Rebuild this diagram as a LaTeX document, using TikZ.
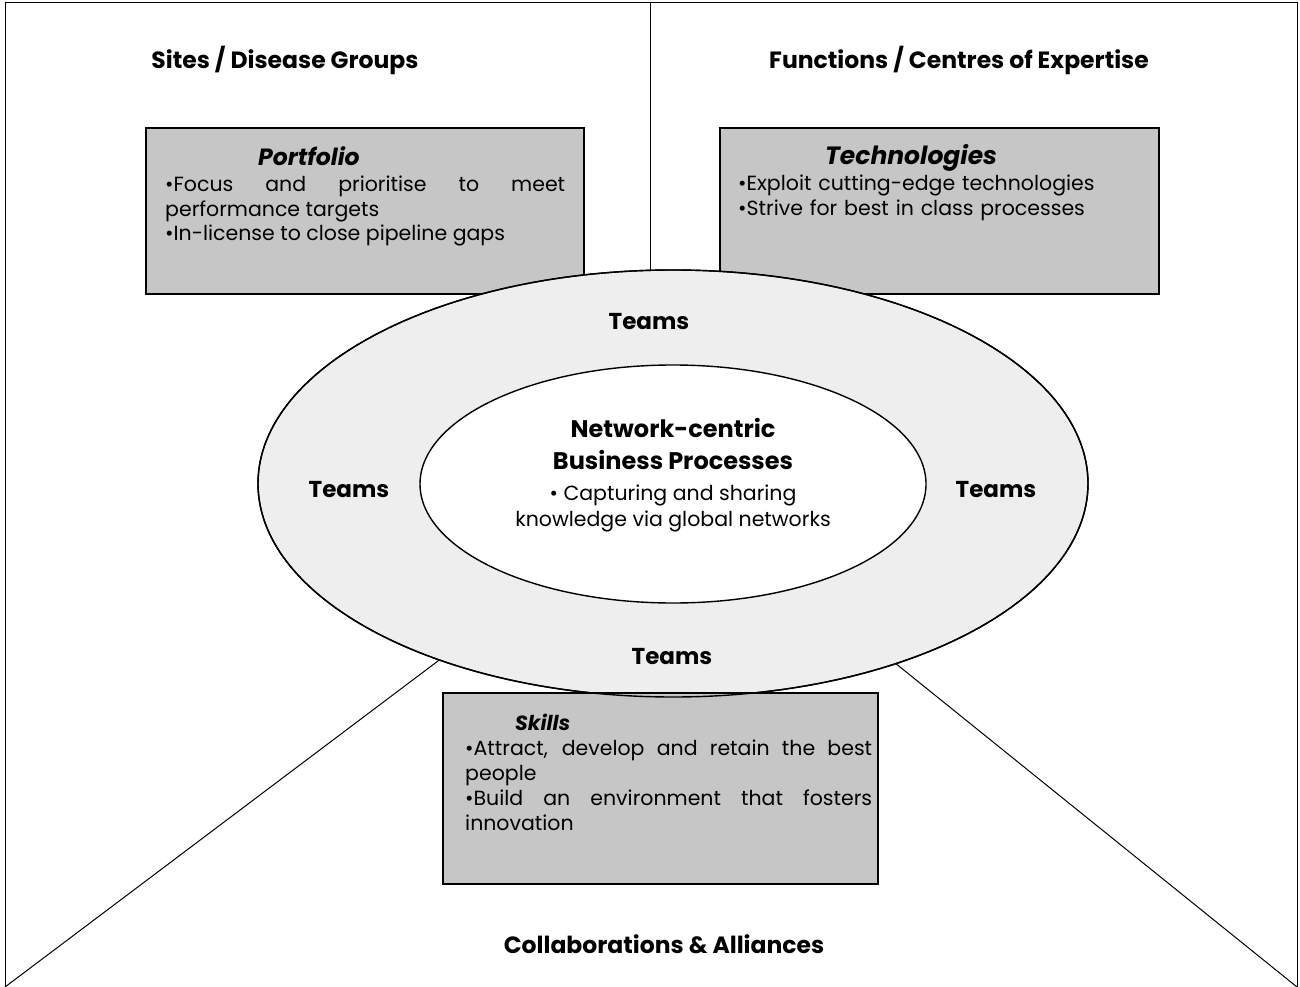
\documentclass[tikz,border=0pt]{standalone}
\usepackage{fontspec}
\setmainfont{Poppins}
\usetikzlibrary{shapes.geometric}
\tikzset{
  frame/.style={draw=black, line width=1pt},
  box/.style={draw=black, line width=1.6pt, fill=gray!45, inner sep=0pt, anchor=north west},
  ring/.style={draw=black, line width=1.4pt, ellipse, inner sep=0pt},
  head/.style={font=\fontsize{23.5}{28}\selectfont\bfseries},
  teams/.style={font=\fontsize{23}{27}\selectfont\bfseries},
  btitle/.style={font=\fontsize{#1}{28}\selectfont\bfseries\itshape, anchor=base west, inner sep=0pt},
  body/.style={font=\fontsize{20.5}{25}\selectfont, anchor=base west, inner sep=0pt},
}
\begin{document}
\begin{tikzpicture}[x=1pt,y=-1pt]
\useasboundingbox (0,0) rectangle (1300,987);
% frame
\coordinate (fbl) at (5,987);
\coordinate (ftl) at (5,3);
\coordinate (ftr) at (1297,3);
\coordinate (fbr) at (1297,987);
\draw[frame] (fbl) -- (ftl) -- (ftr) -- (fbr);
% divider and diagonals toward the centre
\coordinate (ctr) at (673,484);
\coordinate (dtop) at (650,3);
\coordinate (dbot) at (650,330);
\draw[frame] (dtop) -- (dbot);
\draw[frame] (fbl) -- (ctr);
\draw[frame] (fbr) -- (ctr);
% top boxes
\node[box, minimum width=438pt, minimum height=166pt] (pf) at (145,127) {};
\node[box, minimum width=439pt, minimum height=166pt] (tech) at (719,127) {};
\node[btitle=23.5] (pft) at (258,166) {Portfolio};
\node[body, text width=400pt, align=justify] (pfb) at (165,191)
  {•Focus and prioritise to meet\linebreak performance targets\\•In-license to close pipeline gaps};
\node[btitle=25] (techt) at (825,165) {Technologies};
\node[body, text width=410pt, align=left] (techb) at (738,190)
  {•Exploit cutting-edge technologies\\•Strive for best in class processes};
% outer ring
\node[ring, fill=gray!13, minimum width=830pt, minimum height=427pt] (outer) at (673,483.5) {};
% skills box
\node[box, minimum width=435pt, minimum height=191pt] (sk) at (442,692) {};
\draw[line width=1.4pt] (673,483.5) ellipse [x radius=415pt, y radius=213.5pt];
\node[btitle=20.5] (skt) at (515,730) {Skills};
\node[body, text width=407pt, align=justify] (skb) at (465,755)
  {•Attract, develop and retain the best\linebreak people\\•Build an environment that fosters\linebreak innovation};
% inner ellipse
\node[ring, fill=white, minimum width=506pt, minimum height=238pt] (inner) at (673,484) {};
\node[font=\fontsize{24}{32}\selectfont\bfseries, align=center] (ptitle) at (673,444) {Network-centric\\Business Processes};
\node[font=\fontsize{20.5}{26}\selectfont, align=center] (pbody) at (673,508) {• Capturing and sharing\\knowledge via global networks};
% teams labels
\node[teams] (t1) at (649,322) {Teams};
\node[teams] (t2) at (349,490) {Teams};
\node[teams] (t3) at (996,490) {Teams};
\node[teams] (t4) at (672,657) {Teams};
% headings
\node[head] (sites) at (285,60) {Sites / Disease Groups};
\node[head] (func) at (959,60) {Functions / Centres of Expertise};
\node[head] (coll) at (664,944) {Collaborations \& Alliances};
\end{tikzpicture}
\end{document}
